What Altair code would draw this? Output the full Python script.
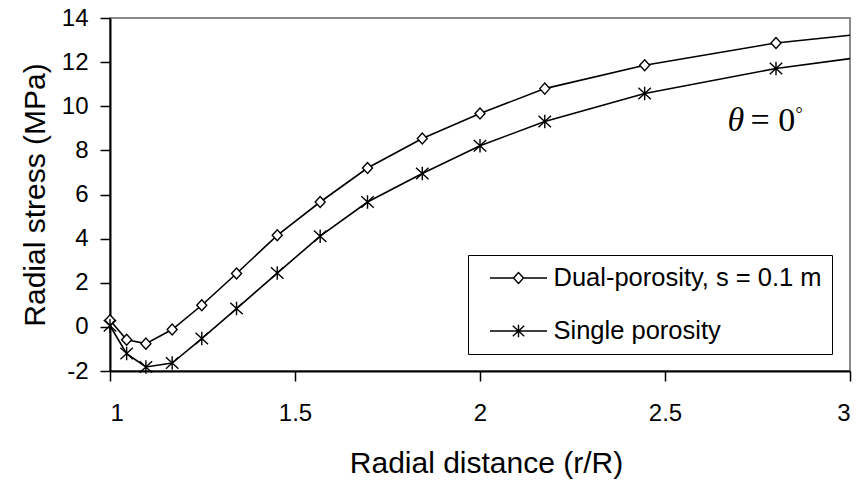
import altair as alt
import pandas as pd

# ---- data ----
r_over_R = [1.0, 1.045, 1.097, 1.168, 1.248, 1.342, 1.452, 1.568, 1.696, 1.844,
            2.0, 2.175, 2.445, 2.80, 3.0]
dual = [0.30, -0.58, -0.76, -0.12, 0.98, 2.42, 4.15, 5.66, 7.20, 8.54,
        9.67, 10.80, 11.86, 12.87, 13.22]
single = [0.05, -1.21, -1.82, -1.64, -0.53, 0.83, 2.44, 4.11, 5.66, 6.95,
          8.21, 9.31, 10.58, 11.71, 12.16]
marked = [True] * 14 + [False]
series_names = ["Dual-porosity, s = 0.1 m", "Single porosity"]
x_ticks = [1, 1.5, 2, 2.5, 3]
y_ticks = [-2, 0, 2, 4, 6, 8, 10, 12, 14]

# annotation (theta = 0 deg), in data units
ann_theta = [{"r": 2.669, "s": 8.87, "t": "θ"}]
ann_eq = [{"r": 2.731, "s": 8.87, "t": "= 0"}]
ann_deg = [{"r": 2.853, "s": 9.37, "t": "°"}]

rows = []
for name, vals in zip(series_names, [dual, single]):
    for x, y, m in zip(r_over_R, vals, marked):
        rows.append({"series": name, "r": x, "stress": y, "marked": m})
df = pd.DataFrame(rows)

# marker shapes
diamond_path = "M-1,0L0,-1.1L1,0L0,1.1Z"
star_path = "M-1.25,-1.15L1.25,1.15M-1.25,1.15L1.25,-1.15M0,-1.35L0,1.35"
dual_leg = "M-2.28,0L-0.4,0M0.4,0L2.28,0M-0.4,0L0,-0.44L0.4,0L0,0.44Z"
single_leg = "M-2.28,0L2.28,0M-0.46,-0.42L0.46,0.42M-0.46,0.42L0.46,-0.42M0,-0.5L0,0.5"

x_enc = alt.X("r:Q", scale=alt.Scale(domain=[1, 3], nice=False, zero=False),
              axis=alt.Axis(values=x_ticks, format="~g", title="Radial distance (r/R)",
                            labelPadding=20, titleX=376, titleY=101,
                            titleBaseline="alphabetic"))
y_enc = alt.Y("stress:Q", scale=alt.Scale(domain=[-2, 14], nice=False, zero=False),
              axis=alt.Axis(values=y_ticks, title="Radial stress (MPa)",
                            labelExpr="datum.value + ''",
                            labelPadding=12, titleX=-66, titleBaseline="alphabetic"))

lines = alt.Chart(df).mark_line(color="black", strokeWidth=1.6).encode(
    x=x_enc, y=y_enc, detail="series:N", order="r:Q")

legend = alt.Legend(
    title=None, orient="none", legendX=358, legendY=237, padding=9.5,
    strokeColor="black", fillColor="white",
    symbolSize=625, symbolStrokeWidth=1.4, symbolOffset=27.5, symbolOpacity=1,
    symbolStrokeColor="black",
    labelOffset=21.5, labelFont="Liberation Sans", labelFontSize=25.5,
    labelColor="black", labelLimit=500, rowPadding=26,
)

# layer that draws nothing and only carries the legend (line + marker symbols);
# its entries come from the explicit scale domain
legend_layer = alt.Chart(df).transform_filter("false").mark_point(
    size=625, color="black", strokeWidth=1.4, opacity=1, filled=False
).encode(
    x=x_enc, y=y_enc,
    shape=alt.Shape("series:N",
                    scale=alt.Scale(domain=series_names, range=[dual_leg, single_leg]),
                    legend=legend),
)

pts_dual = alt.Chart(df).transform_filter(
    f"datum.marked && datum.series === '{series_names[0]}'"
).mark_point(
    shape=diamond_path, size=100, fill="white", stroke="black", strokeWidth=1.4,
    opacity=1, filled=True
).encode(x=x_enc, y=y_enc)

pts_single = alt.Chart(df).transform_filter(
    f"datum.marked && datum.series === '{series_names[1]}'"
).mark_point(
    shape=star_path, size=100, stroke="black", strokeWidth=1.4, opacity=1, filled=False
).encode(x=x_enc, y=y_enc)

t1 = alt.Chart(pd.DataFrame(ann_theta)).mark_text(
    font="Liberation Serif", fontStyle="italic", fontSize=34, align="left",
    baseline="alphabetic", color="black").encode(x="r:Q", y="s:Q", text="t:N")
t2 = alt.Chart(pd.DataFrame(ann_eq)).mark_text(
    font="Liberation Serif", fontSize=34, align="left",
    baseline="alphabetic", color="black").encode(x="r:Q", y="s:Q", text="t:N")
t3 = alt.Chart(pd.DataFrame(ann_deg)).mark_text(
    font="Liberation Serif", fontSize=18, align="left",
    baseline="alphabetic", color="black").encode(x="r:Q", y="s:Q", text="t:N")

chart = alt.layer(lines, legend_layer, pts_dual, pts_single, t1, t2, t3).properties(
    width=740, height=353,
    autosize=alt.AutoSizeParams(type="none"),
    padding={"left": 102, "top": 10, "right": 4, "bottom": 109},
).configure_view(
    stroke="#8a8a8a", strokeWidth=2
).configure_axis(
    grid=False, domainColor="black", domainWidth=2, tickColor="black",
    tickWidth=1.5, tickSize=10, labelFont="Liberation Sans", labelFontSize=24,
    labelColor="black", titleFont="Liberation Sans", titleFontSize=30,
    titleFontWeight="normal", titleColor="black",
)

chart.save("out.html", embed_options={"renderer": "svg", "actions": False})
